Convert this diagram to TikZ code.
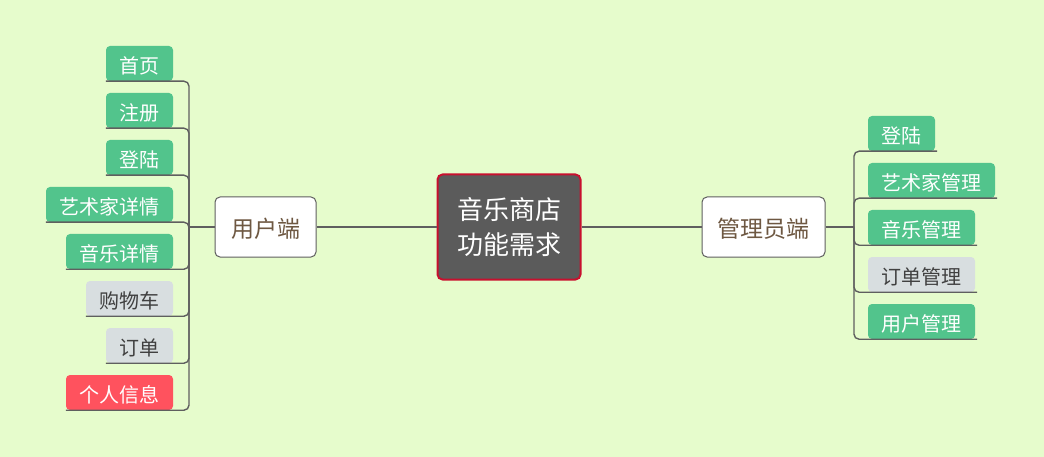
\documentclass[tikz,border=0pt]{standalone}
\usepackage{fontspec}
\setmainfont{Noto Sans CJK SC}
\definecolor{bgc}{RGB}{230,252,204}
\definecolor{leafgreen}{RGB}{82,196,140}
\definecolor{leafgray}{RGB}{216,222,224}
\definecolor{leafred}{RGB}{255,82,94}
\definecolor{linec}{RGB}{95,95,95}
\definecolor{coredark}{RGB}{91,91,91}
\definecolor{corered}{RGB}{200,16,46}
\definecolor{branchtext}{RGB}{110,88,66}
% draw the text a little lower while keeping its box dimensions
\newcommand{\lowered}[1]{\raisebox{-2pt}[\height][\depth]{#1}}
\begin{document}
\begin{tikzpicture}[x=1pt,y=-1pt,
  leaf/.style={rounded corners=4pt, inner sep=0pt, minimum height=35pt, font=\fontsize{20}{21}\selectfont},
  lgreen/.style={leaf, fill=leafgreen, text=white},
  lgray/.style={leaf, fill=leafgray, text=black!75},
  lred/.style={leaf, fill=leafred, text=white},
  branch/.style={draw=linec, line width=1pt, fill=white, rounded corners=5pt, inner sep=0pt,
    minimum width=#1, minimum height=60pt, text=branchtext, font=\fontsize{23}{25}\selectfont},
  core/.style={draw=corered, line width=2pt, fill=coredark, rounded corners=5pt, inner sep=0pt,
    minimum width=143pt, minimum height=105pt, text=white, align=center,
    font=\fontsize{26}{35}\selectfont},
  twig/.style={draw=linec, line width=1.4pt, rounded corners=5pt},
  trunk/.style={draw=linec, line width=2.6pt}
]
\fill[bgc] (0,0) rectangle (1044,457);
\useasboundingbox (0,0) rectangle (1044,457);

% centre topic and the two main branches
\node[core] (core) at (509,227) {音乐商店\\功能需求};
\node[branch=101pt] (user) at (265.5,227) {\lowered{用户端}};
\node[branch=123pt] (admin) at (763.5,227) {\lowered{管理员端}};
\draw[trunk] (core.west) -- (user.east);
\draw[trunk] (core.east) -- (admin.west);

\coordinate (lj) at (189,227);
\coordinate (rj) at (854,227);
\draw[twig] (user.west) -- (lj);
\draw[twig] (admin.east) -- (rj);

% user-side leaves (left edge, text, style)
\foreach \i/\lx/\txt/\sty in {0/106/首页/lgreen, 1/106/注册/lgreen, 2/106/登陆/lgreen,
    3/46/艺术家详情/lgreen, 4/66/音乐详情/lgreen, 5/86/购物车/lgray,
    6/106/订单/lgray, 7/66/个人信息/lred} {
  \pgfmathsetmacro{\cy}{63.5+47*\i}
  \pgfmathsetmacro{\cx}{(\lx+173)/2}
  \pgfmathsetmacro{\w}{173-\lx}
  \node[\sty, minimum width=\w pt] (u\i) at (\cx,\cy) {\lowered{\txt}};
  \draw[twig] (u\i.south west) -- (lj |- u\i.south) -- (lj);
}

% admin-side leaves (right edge, text, style)
\foreach \i/\rx/\txt/\sty in {0/935/登陆/lgreen, 1/995/艺术家管理/lgreen,
    2/975/音乐管理/lgreen, 3/975/订单管理/lgray, 4/975/用户管理/lgreen} {
  \pgfmathsetmacro{\cy}{133.5+47*\i}
  \pgfmathsetmacro{\cx}{(868+\rx)/2}
  \pgfmathsetmacro{\w}{\rx-868}
  \node[\sty, minimum width=\w pt] (a\i) at (\cx,\cy) {\lowered{\txt}};
  \draw[twig] ([xshift=2pt]a\i.south east) -- (rj |- a\i.south) -- (rj);
}
\end{tikzpicture}
\end{document}
